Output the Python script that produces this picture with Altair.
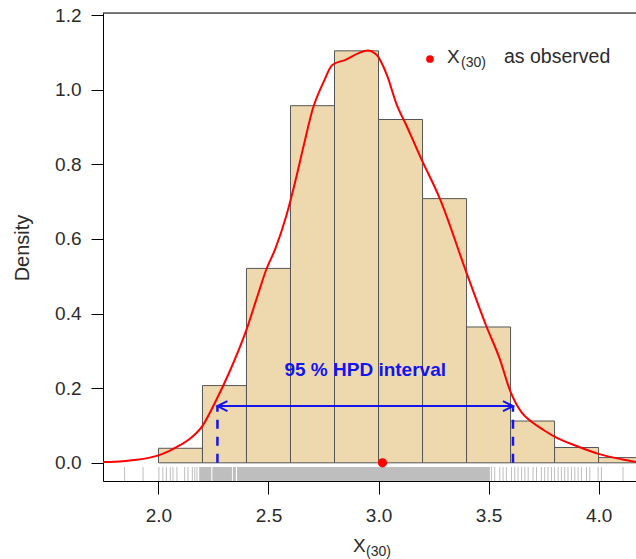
import altair as alt
import pandas as pd

# ---------------- data ----------------
bin_start = [2.0, 2.2, 2.4, 2.6, 2.8, 3.0, 3.2, 3.4, 3.6, 3.8, 4.0]
bin_end = [2.2, 2.4, 2.6, 2.8, 3.0, 3.2, 3.4, 3.6, 3.8, 4.0, 4.2]
bin_density = [0.039, 0.207, 0.521, 0.957, 1.104, 0.920, 0.708, 0.364, 0.112, 0.041, 0.014]

kde_x = [1.748, 1.80, 1.85, 1.90, 1.96, 2.00, 2.05, 2.10, 2.14, 2.20, 2.26, 2.32,
         2.40, 2.45, 2.49, 2.53, 2.58, 2.62, 2.66, 2.70, 2.75, 2.79, 2.85, 2.91,
         2.95, 2.99, 3.04, 3.08, 3.13, 3.19, 3.28, 3.40, 3.49, 3.55, 3.60, 3.65,
         3.70, 3.75, 3.80, 3.90, 4.00, 4.11, 4.17]
kde_y = [0.002, 0.003, 0.005, 0.008, 0.014, 0.020, 0.032, 0.048, 0.063, 0.099, 0.165, 0.240,
         0.357, 0.447, 0.518, 0.572, 0.660, 0.750, 0.850, 0.946, 1.020, 1.066, 1.080, 1.098,
         1.105, 1.094, 1.036, 0.964, 0.900, 0.820, 0.706, 0.509, 0.366, 0.280, 0.190, 0.135,
         0.108, 0.088, 0.070, 0.045, 0.024, 0.009, 0.002]

rug_ticks = [1.846, 1.930, 2.002, 2.020, 2.036, 2.054, 2.066, 2.084, 2.119, 2.134, 2.154,
             2.165, 2.175, 3.513, 3.528, 3.551, 3.566, 3.581, 3.604, 3.619, 3.634, 3.650,
             3.665, 3.680, 3.702, 3.718, 3.740, 3.755, 3.770, 3.786, 3.800, 3.816, 3.831,
             3.846, 3.861, 3.877, 3.892, 3.907, 3.922, 3.945, 3.960, 3.998, 4.013, 4.111]
rug_dense_start = [2.185, 2.245, 2.338, 2.357]
rug_dense_end = [2.240, 2.334, 2.352, 3.506]

hpd_low = 2.268
hpd_high = 3.611
hpd_level = 0.152
observed_x = 3.018

x_ticks = [2.0, 2.5, 3.0, 3.5, 4.0]
y_ticks = [0.0, 0.2, 0.4, 0.6, 0.8, 1.0, 1.2]

# ---------------- layout ----------------
W, H = 533, 468
X_DOM = [1.748, 4.17]
Y_DOM = [-0.0487, 1.2054]
FONT = "Liberation Sans"
TXT = "#2b2b2b"
BLUE = "#1414EE"

xs = alt.Scale(domain=X_DOM, nice=False, zero=False)
ys = alt.Scale(domain=Y_DOM, nice=False, zero=False)

bars_df = pd.DataFrame({"x0": bin_start, "x1": bin_end, "d": bin_density, "base": 0.0})
kde_df = pd.DataFrame({"x": kde_x, "y": kde_y})
rug_df = pd.DataFrame({"x": rug_ticks})
band_df = pd.DataFrame({"x0": rug_dense_start, "x1": rug_dense_end})
hpd_df = pd.DataFrame({"lo": [hpd_low], "hi": [hpd_high], "lev": [hpd_level],
                       "zero": [0.0], "mid": [(hpd_low + hpd_high) / 2]})
obs_df = pd.DataFrame({"x": [observed_x], "y": [0.0]})

base_x_axis = alt.Axis(values=x_ticks, format=".1f", labelFont=FONT, labelFontSize=19,
                       labelColor=TXT, tickColor="black", domainColor="black",
                       tickSize=13, labelPadding=12, grid=False, title=None,
                       domainWidth=1, tickWidth=1, labelFlush=False)
base_y_axis = alt.Axis(values=y_ticks, format=".1f", labelFont=FONT, labelFontSize=19,
                       labelColor=TXT, tickColor="black", domainColor="black",
                       tickSize=12, labelPadding=10, grid=False, title=None,
                       domainWidth=1, tickWidth=1, labelFlush=False)

bars = alt.Chart(bars_df).mark_rect(fill="#EED8AE", stroke="#555555", strokeWidth=1,
                                     clip=True).encode(
    x=alt.X("x0:Q", scale=xs, axis=base_x_axis),
    x2="x1:Q",
    y=alt.Y("base:Q", scale=ys, axis=base_y_axis),
    y2="d:Q",
)

band = alt.Chart(band_df).mark_rect(fill="#BEBEBE", clip=True).encode(
    x=alt.X("x0:Q", scale=xs),
    x2="x1:Q",
    y=alt.value(H - 14),
    y2=alt.value(H),
)

rug = alt.Chart(rug_df).mark_rule(color="#BEBEBE", strokeWidth=1, clip=True).encode(
    x=alt.X("x:Q", scale=xs),
    y=alt.value(H - 14),
    y2=alt.value(H),
)

curve = alt.Chart(kde_df).mark_line(color="#FF0000", strokeWidth=2, clip=True,
                                     interpolate="monotone").encode(
    x=alt.X("x:Q", scale=xs),
    y=alt.Y("y:Q", scale=ys),
)

dash_lo = alt.Chart(hpd_df).mark_rule(color=BLUE, strokeWidth=2.5,
                                       strokeDash=[9, 8]).encode(
    x=alt.X("lo:Q", scale=xs),
    y=alt.Y("zero:Q", scale=ys),
    y2="lev:Q",
)
dash_hi = alt.Chart(hpd_df).mark_rule(color=BLUE, strokeWidth=2.5,
                                       strokeDash=[9, 8]).encode(
    x=alt.X("hi:Q", scale=xs),
    y=alt.Y("zero:Q", scale=ys),
    y2="lev:Q",
)
arrow_line = alt.Chart(hpd_df).mark_rule(color=BLUE, strokeWidth=2).encode(
    x=alt.X("lo:Q", scale=xs),
    x2="hi:Q",
    y=alt.Y("lev:Q", scale=ys),
)
head_lo = alt.Chart(hpd_df).mark_point(shape="M1,-1L-1,0L1,1", size=100, filled=False,
                                        color=BLUE, strokeWidth=2, xOffset=5,
                                        opacity=1).encode(
    x=alt.X("lo:Q", scale=xs),
    y=alt.Y("lev:Q", scale=ys),
)
head_hi = alt.Chart(hpd_df).mark_point(shape="M-1,-1L1,0L-1,1", size=100, filled=False,
                                        color=BLUE, strokeWidth=2, xOffset=-5,
                                        opacity=1).encode(
    x=alt.X("hi:Q", scale=xs),
    y=alt.Y("lev:Q", scale=ys),
)
hpd_text = alt.Chart(hpd_df).mark_text(text="95 % HPD interval", font=FONT, fontSize=19,
                                        fontWeight="bold", color=BLUE,
                                        baseline="alphabetic", align="center").encode(
    x=alt.X("mid:Q", scale=xs),
    y=alt.value(363),
)

obs = alt.Chart(obs_df).mark_point(filled=True, color="#FF0000", size=85, opacity=1).encode(
    x=alt.X("x:Q", scale=xs),
    y=alt.Y("y:Q", scale=ys),
)

top_rule = alt.Chart(obs_df).mark_rule(color="black", strokeWidth=1).encode(
    x=alt.value(0), x2=alt.value(W + 5), y=alt.value(0))

# legend
leg_dot = alt.Chart(obs_df).mark_point(filled=True, color="#FF0000", size=60, opacity=1).encode(
    x=alt.value(327), y=alt.value(46))
leg_x = alt.Chart(obs_df).mark_text(text="X", font=FONT, fontSize=19, color=TXT,
                                     align="left", baseline="alphabetic").encode(
    x=alt.value(344), y=alt.value(50))
leg_sub = alt.Chart(obs_df).mark_text(text="(30)", font=FONT, fontSize=14, color=TXT,
                                       align="left", baseline="alphabetic").encode(
    x=alt.value(358), y=alt.value(54))
leg_txt = alt.Chart(obs_df).mark_text(text="as observed", font=FONT, fontSize=19.5, color=TXT,
                                       align="left", baseline="alphabetic").encode(
    x=alt.value(401), y=alt.value(50))

# axis titles
xt_x = alt.Chart(obs_df).mark_text(text="X", font=FONT, fontSize=19, color=TXT,
                                    align="left", baseline="alphabetic").encode(
    x=alt.value(250), y=alt.value(539))
xt_sub = alt.Chart(obs_df).mark_text(text="(30)", font=FONT, fontSize=14, color=TXT,
                                      align="left", baseline="alphabetic").encode(
    x=alt.value(263), y=alt.value(543))
yt = alt.Chart(obs_df).mark_text(text="Density", font=FONT, fontSize=20, color=TXT,
                                  align="center", baseline="middle", angle=270).encode(
    x=alt.value(-80), y=alt.value(235))

chart = alt.layer(
    bars, band, rug, curve, dash_lo, dash_hi, arrow_line, head_lo, head_hi, hpd_text,
    obs, top_rule, leg_dot, leg_x, leg_sub, leg_txt, xt_x, xt_sub, yt
).properties(
    width=W, height=H,
    padding={"left": 103, "top": 13, "right": 0, "bottom": 78},
    autosize=alt.AutoSizeParams(type="none"),
).configure_view(stroke=None).configure(background="white")

chart.save("out.html", embed_options={"renderer": "svg", "actions": False})
